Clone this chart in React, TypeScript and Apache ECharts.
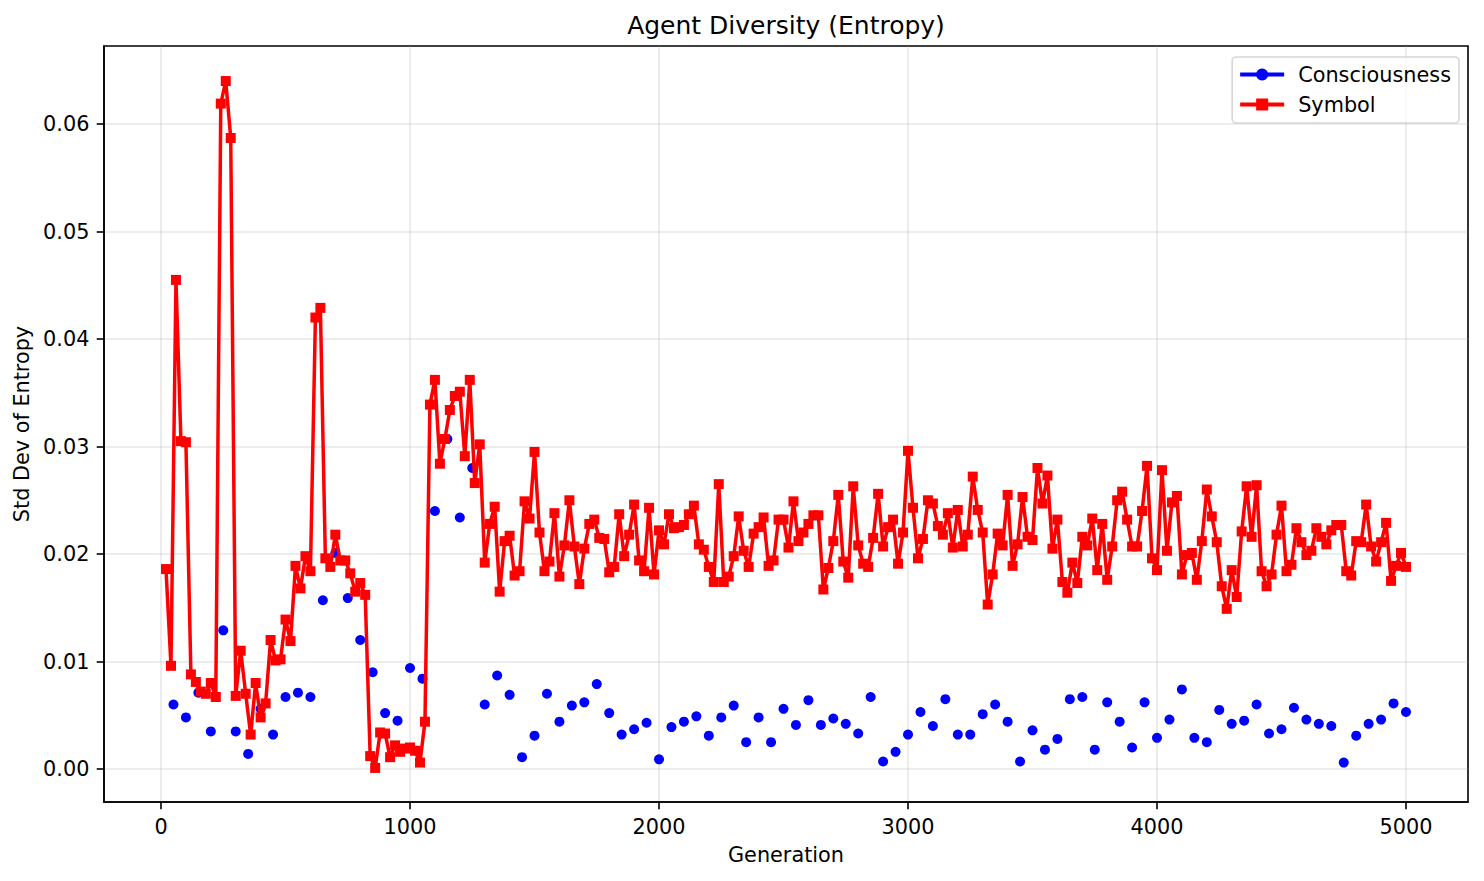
import React, { useEffect, useRef } from "react";
import * as echarts from "echarts";

// Symbol: one value every 20 generations (20 ... 5000)
const SYMBOL_STEP = 20;
const symbolValues = [
  0.0186, 0.0096, 0.0455, 0.0305, 0.0304, 0.0088, 0.0081, 0.0072, 0.0070, 0.0080,
  0.0067, 0.0619, 0.0640, 0.0587, 0.0068, 0.0110, 0.0070, 0.0032, 0.0080, 0.0048,
  0.0061, 0.0120, 0.0101, 0.0102, 0.0139, 0.0119, 0.0189, 0.0168, 0.0198, 0.0184,
  0.0420, 0.0429, 0.0196, 0.0188, 0.0218, 0.0194, 0.0194, 0.0182, 0.0165, 0.0173,
  0.0162, 0.0012, 0.0001, 0.0034, 0.0033, 0.0011, 0.0022, 0.0016, 0.0019, 0.0020,
  0.0017, 0.0006, 0.0044, 0.0339, 0.0362, 0.0284, 0.0307, 0.0334, 0.0347, 0.0351,
  0.0291, 0.0362, 0.0266, 0.0302, 0.0192, 0.0228, 0.0244, 0.0165, 0.0212, 0.0217,
  0.0180, 0.0184, 0.0249, 0.0233, 0.0295, 0.0220, 0.0184, 0.0193, 0.0238, 0.0179,
  0.0208, 0.0250, 0.0207, 0.0172, 0.0205, 0.0228, 0.0232, 0.0215, 0.0214, 0.0183,
  0.0188, 0.0237, 0.0198, 0.0218, 0.0246, 0.0194, 0.0184, 0.0243, 0.0181, 0.0222,
  0.0209, 0.0237, 0.0224, 0.0225, 0.0227, 0.0237, 0.0245, 0.0209, 0.0204, 0.0188,
  0.0174, 0.0265, 0.0174, 0.0179, 0.0198, 0.0235, 0.0203, 0.0188, 0.0219, 0.0225,
  0.0234, 0.0189, 0.0194, 0.0232, 0.0232, 0.0206, 0.0249, 0.0212, 0.0220, 0.0228,
  0.0236, 0.0236, 0.0167, 0.0187, 0.0212, 0.0255, 0.0193, 0.0178, 0.0263, 0.0208,
  0.0191, 0.0188, 0.0215, 0.0256, 0.0207, 0.0225, 0.0232, 0.0191, 0.0220, 0.0296,
  0.0243, 0.0196, 0.0214, 0.0250, 0.0247, 0.0226, 0.0218, 0.0238, 0.0206, 0.0241,
  0.0207, 0.0218, 0.0272, 0.0241, 0.0220, 0.0153, 0.0181, 0.0219, 0.0208, 0.0255,
  0.0189, 0.0209, 0.0253, 0.0216, 0.0213, 0.0280, 0.0247, 0.0273, 0.0205, 0.0232,
  0.0174, 0.0164, 0.0192, 0.0173, 0.0216, 0.0208, 0.0233, 0.0185, 0.0228, 0.0176,
  0.0207, 0.0250, 0.0258, 0.0232, 0.0207, 0.0207, 0.0240, 0.0282, 0.0196, 0.0185,
  0.0278, 0.0203, 0.0248, 0.0254, 0.0181, 0.0199, 0.0201, 0.0176, 0.0212, 0.0260,
  0.0235, 0.0211, 0.0170, 0.0149, 0.0185, 0.0160, 0.0221, 0.0263, 0.0216, 0.0264,
  0.0184, 0.0170, 0.0181, 0.0218, 0.0245, 0.0184, 0.0190, 0.0224, 0.0211, 0.0199,
  0.0203, 0.0224, 0.0216, 0.0209, 0.0222, 0.0227, 0.0227, 0.0184, 0.0180, 0.0212,
  0.0211, 0.0246, 0.0207, 0.0193, 0.0211, 0.0229, 0.0175, 0.0189, 0.0201, 0.0188,
];

// Consciousness: one value every 50 generations (50 ... 5000)
const CONSCIOUSNESS_STEP = 50;
const consciousnessValues = [
  0.0060, 0.0048, 0.0071, 0.0035, 0.0129, 0.0035, 0.0014, 0.0056, 0.0032, 0.0067,
  0.0071, 0.0067, 0.0157, 0.0201, 0.0159, 0.0120, 0.0090, 0.0052, 0.0045, 0.0094,
  0.0084, 0.0240, 0.0307, 0.0234, 0.0280, 0.0060, 0.0087, 0.0069, 0.0011, 0.0031,
  0.0070, 0.0044, 0.0059, 0.0062, 0.0079, 0.0052, 0.0032, 0.0037, 0.0043, 0.0009,
  0.0039, 0.0044, 0.0049, 0.0031, 0.0048, 0.0059, 0.0025, 0.0048, 0.0025, 0.0056,
  0.0041, 0.0064, 0.0041, 0.0047, 0.0042, 0.0033, 0.0067, 0.0007, 0.0016, 0.0032,
  0.0053, 0.0040, 0.0065, 0.0032, 0.0032, 0.0051, 0.0060, 0.0044, 0.0007, 0.0036,
  0.0018, 0.0028, 0.0065, 0.0067, 0.0018, 0.0062, 0.0044, 0.0020, 0.0062, 0.0029,
  0.0046, 0.0074, 0.0029, 0.0025, 0.0055, 0.0042, 0.0045, 0.0060, 0.0033, 0.0037,
  0.0057, 0.0046, 0.0042, 0.0040, 0.0006, 0.0031, 0.0042, 0.0046, 0.0061, 0.0053,
];

const xTicks = [0, 1000, 2000, 3000, 4000, 5000];
const yTicks = [0, 0.01, 0.02, 0.03, 0.04, 0.05, 0.06];
const X_MIN = -229;
const X_MAX = 5249;
const Y_MIN = -0.00307;
const Y_MAX = 0.06726;

const FONT = "DejaVu Sans";

export default function App() {
  const ref = useRef<HTMLDivElement>(null);

  useEffect(() => {
    if (!ref.current) return;
    const chart = echarts.init(ref.current, null, { renderer: "svg" });

    const symbolData = symbolValues.map((v, i) => [(i + 1) * SYMBOL_STEP, v]);
    const consData: any[] = [];
    consciousnessValues.forEach((v, i) => {
      const g = (i + 1) * CONSCIOUSNESS_STEP;
      consData.push([g, v]);
      consData.push([g + CONSCIOUSNESS_STEP / 2, null]);
    });

    const tickStyle = { color: "#000", width: 1.6 };
    const gridLine = { color: "rgba(176,176,176,0.3)", width: 1.6 };
    const labelStyle = { fontSize: 20.8, color: "#000", fontFamily: FONT };

    chart.setOption({
      animation: false,
      backgroundColor: "#fff",
      textStyle: { fontFamily: FONT },
      graphic: [
        {
          type: "text",
          x: 786,
          y: 25,
          silent: true,
          style: {
            text: "Agent Diversity (Entropy)",
            fontSize: 25,
            fontFamily: FONT,
            fill: "#000",
            textAlign: "center",
            textVerticalAlign: "middle",
          },
        },
      ],
      grid: {
        left: 104,
        top: 46,
        width: 1364,
        height: 756,
        show: true,
        borderColor: "#000",
        borderWidth: 1.6,
        backgroundColor: "transparent",
      },
      legend: {
        orient: "vertical",
        right: 25,
        top: 57,
        itemWidth: 44,
        itemHeight: 15,
        itemGap: 9,
        padding: [7, 8, 8, 6],
        backgroundColor: "rgba(255,255,255,0.8)",
        borderColor: "rgba(204,204,204,0.8)",
        borderWidth: 1.6,
        borderRadius: 4,
        lineStyle: { width: 4 },
        textStyle: { ...labelStyle, lineHeight: 21, padding: [0, 0, 0, 9] },
        data: ["Consciousness", "Symbol"],
      },
      xAxis: {
        type: "value",
        min: X_MIN,
        max: X_MAX,
        name: "Generation",
        nameLocation: "middle",
        nameGap: 42,
        nameTextStyle: labelStyle,
        axisLine: { show: true, onZero: false, lineStyle: tickStyle },
        axisTick: { show: true, customValues: xTicks, length: 7.3, inside: false, lineStyle: tickStyle },
        axisLabel: {
          customValues: xTicks,
          formatter: (v: number) => String(v),
          margin: 14.6,
          ...labelStyle,
        },
        splitLine: { show: true, lineStyle: gridLine },
      },
      yAxis: {
        type: "value",
        min: Y_MIN,
        max: Y_MAX,
        name: "Std Dev of Entropy",
        nameLocation: "middle",
        nameGap: 68,
        nameTextStyle: labelStyle,
        axisLine: { show: true, onZero: false, lineStyle: tickStyle },
        axisTick: { show: true, customValues: yTicks, length: 7.3, inside: false, lineStyle: tickStyle },
        axisLabel: {
          customValues: yTicks,
          formatter: (v: number) => v.toFixed(2),
          margin: 14.6,
          ...labelStyle,
        },
        splitLine: { show: true, lineStyle: gridLine },
      },
      series: [
        {
          name: "Consciousness",
          type: "line",
          data: consData,
          symbol: "circle",
          symbolSize: 10,
          showSymbol: true,
          showAllSymbol: true,
          connectNulls: false,
          lineStyle: { color: "#0000ff", width: 3.5 },
          itemStyle: { color: "#0000ff", borderWidth: 0 },
          emphasis: { disabled: true },
          z: 2,
        },
        {
          name: "Symbol",
          type: "line",
          data: symbolData,
          symbol: "rect",
          symbolSize: 10,
          showSymbol: true,
          showAllSymbol: true,
          lineStyle: { color: "#ff0000", width: 3.5, join: "round" },
          itemStyle: { color: "#ff0000", borderWidth: 0 },
          emphasis: { disabled: true },
          z: 3,
        },
      ],
    });

    return () => chart.dispose();
  }, []);

  return (
    <div
      ref={ref}
      style={{ position: "fixed", left: 0, top: 0, width: 1484, height: 881, background: "#fff" }}
    />
  );
}
